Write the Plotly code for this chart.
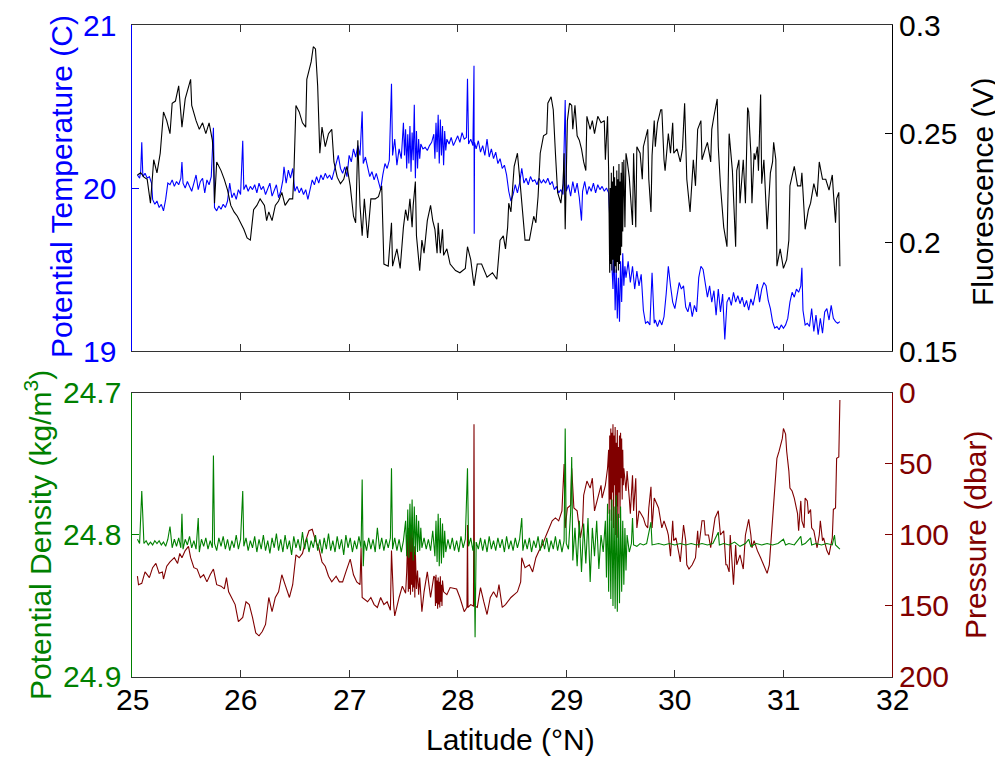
import plotly.graph_objects as go

# ---------------- data ----------------
temp_lat = [25.05,25.07,25.08,25.09,25.10,25.12,25.14,25.16,25.18,25.19,
            25.21,25.23,25.25,25.27,25.29,25.31,25.33,25.35,25.37,25.39,
            25.41,25.43,25.45,25.46,25.47,25.49,25.51,25.53,25.55,25.57,
            25.59,25.61,25.63,25.65,25.67,25.69,25.71,25.73,25.75,25.76,
            25.78,25.80,25.82,25.84,25.86,25.88,25.90,25.92,25.94,25.96,
            25.98,26.00,26.02,26.03,26.05,26.07,26.09,26.11,26.13,26.15,
            26.17,26.19,26.21,26.23,26.25,26.27,26.29,26.31,26.33,26.35,
            26.37,26.39,26.40,26.42,26.44,26.46,26.48,26.50,26.52,26.54,
            26.56,26.58,26.60,26.62,26.64,26.66,26.68,26.70,26.72,26.74,
            26.76,26.78,26.80,26.82,26.84,26.86,26.88,26.90,26.92,26.94,
            26.96,26.98,27.00,27.02,27.04,27.06,27.08,27.10,27.12,27.13,
            27.15,27.17,27.19,27.21,27.23,27.25,27.27,27.29,27.31,27.33,
            27.35,27.37,27.39,27.40,27.42,27.44,27.46,27.48,27.50,27.51,
            27.52,27.53,27.54,27.55,27.56,27.57,27.58,27.59,27.60,27.61,
            27.62,27.63,27.64,27.65,27.66,27.68,27.70,27.72,27.74,27.76,
            27.78,27.79,27.80,27.81,27.82,27.83,27.84,27.85,27.86,27.87,
            27.88,27.89,27.90,27.92,27.94,27.96,27.98,28.00,28.02,28.04,
            28.06,28.08,28.09,28.10,28.12,28.14,28.15,28.152,28.155,28.17,
            28.19,28.21,28.23,28.25,28.27,28.29,28.31,28.33,28.35,28.37,
            28.39,28.41,28.43,28.45,28.47,28.49,28.51,28.53,28.55,28.57,
            28.59,28.61,28.63,28.65,28.67,28.69,28.71,28.73,28.75,28.77,
            28.79,28.81,28.83,28.85,28.87,28.89,28.91,28.93,28.95,28.97,
            28.99,29.00,29.02,29.04,29.06,29.08,29.10,29.12,29.14,29.15,
            29.17,29.19,29.21,29.23,29.25,29.27,29.29,29.31,29.33,29.35,
            29.37,29.39,29.41,29.42,29.43,29.44,29.45,29.46,29.47,29.48,
            29.49,29.50,29.51,29.52,29.53,29.54,29.55,29.57,29.59,29.61,
            29.63,29.65,29.67,29.69,29.71,29.73,29.75,29.77,29.79,29.81,
            29.82,29.84,29.86,29.88,29.90,29.92,29.94,29.96,29.98,30.00,
            30.02,30.04,30.06,30.08,30.10,30.12,30.14,30.16,30.18,30.20,
            30.22,30.24,30.26,30.28,30.30,30.32,30.34,30.36,30.38,30.40,
            30.42,30.44,30.46,30.48,30.50,30.52,30.54,30.56,30.58,30.60,
            30.62,30.64,30.66,30.68,30.70,30.72,30.74,30.76,30.78,30.80,
            30.82,30.84,30.86,30.88,30.90,30.92,30.94,30.96,30.98,31.00,
            31.02,31.04,31.06,31.08,31.10,31.12,31.14,31.16,31.17,31.18,
            31.20,31.22,31.24,31.26,31.28,31.30,31.32,31.34,31.36,31.38,
            31.40,31.42,31.44,31.46,31.48,31.50,31.52]
temp_val = [20.08,20.06,20.10,20.28,20.07,20.09,20.06,20.07,20.03,19.93,
            19.90,19.92,19.88,19.90,19.86,19.93,20.03,20.02,20.05,20.01,
            20.04,20.02,20.06,20.16,20.03,20.00,20.04,20.01,19.98,20.03,
            20.08,19.99,20.04,20.06,19.97,20.05,20.02,20.07,20.37,19.88,
            19.86,19.89,19.87,19.90,19.88,19.92,20.03,19.94,19.97,19.93,
            19.99,19.96,20.29,19.99,20.02,19.98,20.01,19.99,20.02,19.97,
            20.03,19.99,20.01,19.96,20.00,20.03,19.95,19.99,20.02,19.94,
            19.98,20.05,20.13,20.03,20.11,20.06,20.12,19.98,20.01,19.97,
            20.00,19.96,19.99,19.93,20.00,20.05,20.02,20.07,20.03,20.08,
            20.05,20.09,20.06,20.08,20.05,20.10,20.16,20.20,20.12,20.09,
            20.13,20.07,20.20,20.16,20.24,20.19,20.26,20.20,20.47,20.15,
            20.19,20.12,20.07,20.10,20.05,20.09,20.03,19.99,20.08,20.15,
            20.12,20.17,20.64,20.20,20.30,20.14,20.24,20.18,20.40,20.20,
            20.36,20.12,20.33,20.15,20.38,20.10,20.34,20.17,20.51,20.06,
            20.35,20.12,20.30,20.18,20.27,20.24,20.25,20.23,20.26,20.28,
            20.33,20.18,20.40,20.22,20.45,20.15,20.42,20.20,20.38,20.14,
            20.35,20.23,20.30,20.27,20.31,20.26,20.29,20.32,20.28,20.34,
            20.30,20.31,20.67,20.27,20.30,20.26,20.75,19.72,20.28,20.24,
            20.29,20.22,20.26,20.20,20.30,20.19,20.24,20.18,20.22,20.15,
            20.18,20.12,20.14,20.08,19.98,19.92,19.96,20.02,19.97,20.03,
            20.12,20.03,20.06,20.02,20.07,20.04,20.05,20.02,20.06,20.03,
            20.05,20.03,20.06,20.02,20.04,19.99,20.01,19.97,19.99,19.96,
            20.54,19.98,20.02,19.95,20.04,19.97,20.03,19.94,19.80,19.98,
            20.04,19.96,20.01,19.98,20.03,19.97,20.02,19.99,20.01,19.98,
            20.00,19.97,19.70,19.55,19.38,19.62,19.25,19.50,19.20,19.45,
            19.18,19.55,19.30,19.60,19.40,19.52,19.45,19.55,19.42,19.52,
            19.38,19.49,19.40,19.47,19.25,19.17,19.18,19.16,19.48,19.17,
            19.19,19.15,19.19,19.16,19.21,19.35,19.52,19.40,19.30,19.26,
            19.35,19.42,19.38,19.40,19.27,19.24,19.30,19.21,19.28,19.24,
            19.45,19.52,19.50,19.41,19.33,19.40,19.30,19.37,19.22,19.38,
            19.24,19.35,19.07,19.30,19.33,19.28,19.36,19.30,19.34,19.29,
            19.33,19.27,19.31,19.25,19.32,19.28,19.35,19.41,19.30,19.38,
            19.42,19.40,19.31,19.26,19.18,19.14,19.15,19.13,19.16,19.14,
            19.16,19.20,19.30,19.36,19.33,19.38,19.36,19.40,19.51,19.25,
            19.16,19.17,19.15,19.26,19.12,19.22,19.10,19.20,19.11,19.24,
            19.26,19.19,19.28,19.20,19.18,19.17,19.18]

fluor_lat = [25.05,25.08,25.11,25.14,25.17,25.20,25.23,25.26,25.29,25.32,
             25.35,25.37,25.40,25.43,25.46,25.49,25.54,25.55,25.59,25.62,
             25.65,25.68,25.71,25.74,25.75,25.76,25.78,25.82,25.85,25.88,
             25.91,25.94,25.97,26.00,26.03,26.06,26.09,26.12,26.15,26.18,
             26.22,26.24,26.26,26.29,26.32,26.35,26.38,26.41,26.45,26.48,
             26.49,26.51,26.54,26.57,26.60,26.61,26.65,26.67,26.69,26.71,
             26.73,26.75,26.78,26.81,26.84,26.86,26.89,26.92,26.95,26.98,
             27.01,27.04,27.06,27.08,27.10,27.12,27.14,27.17,27.20,27.24,
             27.27,27.30,27.32,27.36,27.39,27.40,27.44,27.47,27.50,27.52,
             27.54,27.56,27.58,27.59,27.61,27.62,27.65,27.67,27.69,27.72,
             27.75,27.77,27.79,27.81,27.82,27.84,27.86,27.87,27.90,27.93,
             27.98,28.02,28.07,28.09,28.12,28.15,28.18,28.22,28.27,28.32,
             28.36,28.39,28.42,28.44,28.46,28.47,28.49,28.52,28.55,28.57,
             28.59,28.62,28.66,28.68,28.70,28.72,28.74,28.76,28.79,28.82,
             28.83,28.86,28.88,28.90,28.92,28.95,28.97,28.98,28.99,29.01,
             29.03,29.05,29.06,29.08,29.10,29.12,29.14,29.16,29.18,29.19,
             29.22,29.24,29.26,29.29,29.32,29.35,29.36,29.38,29.39,29.40,
             29.405,29.41,29.415,29.42,29.425,29.43,29.435,29.44,29.445,29.45,
             29.455,29.46,29.465,29.47,29.475,29.48,29.485,29.49,29.495,29.50,
             29.505,29.51,29.515,29.52,29.53,29.54,29.55,29.56,29.58,29.61,
             29.62,29.64,29.65,29.68,29.70,29.71,29.75,29.76,29.78,29.79,
             29.81,29.82,29.84,29.87,29.88,29.90,29.91,29.94,29.96,29.98,
             29.99,30.02,30.05,30.07,30.09,30.11,30.13,30.14,30.16,30.17,
             30.19,30.21,30.24,30.25,30.28,30.30,30.33,30.34,30.36,30.39,
             30.40,30.42,30.45,30.48,30.50,30.53,30.56,30.57,30.59,30.60,
             30.63,30.65,30.67,30.68,30.70,30.71,30.73,30.74,30.76,30.77,
             30.79,30.80,30.82,30.85,30.88,30.90,30.91,30.93,30.94,30.97,
             31.00,31.03,31.05,31.06,31.10,31.11,31.13,31.16,31.17,31.20,
             31.23,31.25,31.28,31.31,31.33,31.36,31.39,31.42,31.45,31.46,
             31.48,31.49,31.51,31.52]
fluor_val = [0.231,0.232,0.230,0.229,0.218,0.238,0.232,0.241,0.260,0.256,
             0.250,0.264,0.265,0.272,0.253,0.266,0.275,0.263,0.256,0.252,
             0.255,0.250,0.255,0.247,0.241,0.218,0.237,0.233,0.229,0.224,
             0.217,0.214,0.212,0.209,0.206,0.202,0.201,0.215,0.217,0.220,
             0.217,0.210,0.214,0.210,0.217,0.219,0.223,0.217,0.220,0.220,
             0.230,0.263,0.260,0.255,0.253,0.275,0.283,0.290,0.289,0.272,
             0.241,0.253,0.244,0.250,0.252,0.237,0.230,0.227,0.229,0.235,
             0.226,0.212,0.209,0.247,0.217,0.203,0.220,0.202,0.220,0.220,
             0.221,0.226,0.190,0.189,0.209,0.189,0.197,0.188,0.207,0.215,
             0.210,0.220,0.207,0.217,0.228,0.203,0.187,0.201,0.195,0.210,
             0.217,0.210,0.206,0.195,0.209,0.195,0.206,0.194,0.197,0.190,
             0.187,0.186,0.188,0.198,0.192,0.180,0.190,0.190,0.184,0.186,
             0.183,0.201,0.203,0.197,0.207,0.218,0.214,0.235,0.241,0.230,
             0.217,0.201,0.201,0.207,0.212,0.209,0.221,0.241,0.249,0.250,
             0.264,0.267,0.261,0.241,0.223,0.218,0.227,0.241,0.206,0.256,
             0.264,0.263,0.252,0.263,0.249,0.247,0.243,0.237,0.233,0.258,
             0.252,0.256,0.250,0.258,0.255,0.256,0.238,0.258,0.233,0.186,
             0.225,0.190,0.232,0.187,0.228,0.192,0.235,0.186,0.230,0.189,
             0.226,0.186,0.233,0.191,0.229,0.187,0.236,0.190,0.228,0.194,
             0.232,0.198,0.237,0.205,0.238,0.207,0.241,0.238,0.230,0.208,
             0.241,0.207,0.244,0.241,0.229,0.244,0.252,0.229,0.214,0.240,
             0.256,0.244,0.255,0.261,0.261,0.238,0.233,0.250,0.241,0.255,
             0.241,0.243,0.237,0.243,0.264,0.229,0.219,0.214,0.230,0.238,
             0.226,0.252,0.256,0.238,0.243,0.246,0.237,0.252,0.258,0.266,
             0.244,0.226,0.207,0.198,0.250,0.233,0.198,0.233,0.238,0.218,
             0.238,0.218,0.262,0.260,0.241,0.218,0.241,0.238,0.244,0.233,
             0.268,0.227,0.238,0.206,0.232,0.237,0.246,0.238,0.189,0.197,
             0.188,0.192,0.201,0.226,0.235,0.232,0.226,0.226,0.232,0.206,
             0.215,0.218,0.227,0.221,0.237,0.229,0.229,0.224,0.231,0.223,
             0.209,0.220,0.223,0.189]

dens_lat = [25.05,25.07,25.09,25.11,25.13,25.15,25.17,25.19,25.21,25.23,
            25.25,25.27,25.29,25.31,25.33,25.35,25.37,25.39,25.41,25.43,
            25.45,25.46,25.47,25.49,25.51,25.53,25.55,25.57,25.59,25.61,
            25.62,25.64,25.66,25.68,25.70,25.72,25.74,25.75,25.76,25.78,
            25.80,25.82,25.84,25.86,25.88,25.90,25.92,25.94,25.96,25.98,
            26.00,26.02,26.03,26.05,26.07,26.09,26.11,26.13,26.15,26.17,
            26.19,26.21,26.23,26.25,26.27,26.29,26.31,26.33,26.35,26.37,
            26.39,26.41,26.43,26.45,26.47,26.49,26.51,26.53,26.55,26.57,
            26.59,26.61,26.63,26.65,26.67,26.69,26.71,26.73,26.75,26.77,
            26.79,26.81,26.83,26.85,26.87,26.89,26.91,26.93,26.95,26.97,
            26.99,27.01,27.03,27.05,27.07,27.09,27.11,27.12,27.13,27.14,
            27.16,27.18,27.20,27.22,27.24,27.26,27.28,27.30,27.32,27.34,
            27.36,27.38,27.39,27.40,27.42,27.44,27.46,27.48,27.50,27.52,
            27.53,27.54,27.55,27.56,27.57,27.58,27.59,27.60,27.61,27.62,
            27.63,27.64,27.65,27.66,27.67,27.69,27.71,27.73,27.75,27.77,
            27.79,27.80,27.81,27.82,27.83,27.84,27.85,27.86,27.87,27.88,
            27.89,27.91,27.93,27.95,27.97,27.99,28.01,28.03,28.05,28.07,
            28.09,28.10,28.12,28.14,28.15,28.16,28.17,28.19,28.21,28.23,
            28.25,28.27,28.29,28.31,28.33,28.35,28.37,28.39,28.41,28.43,
            28.45,28.47,28.49,28.51,28.53,28.55,28.57,28.59,28.60,28.62,
            28.64,28.66,28.68,28.70,28.72,28.74,28.76,28.78,28.80,28.82,
            28.84,28.86,28.88,28.90,28.92,28.94,28.96,28.98,28.99,29.00,
            29.02,29.04,29.05,29.06,29.08,29.10,29.12,29.14,29.16,29.18,
            29.20,29.22,29.24,29.26,29.28,29.30,29.32,29.34,29.36,29.37,
            29.38,29.39,29.40,29.41,29.42,29.43,29.44,29.45,29.46,29.47,
            29.48,29.49,29.50,29.51,29.52,29.53,29.54,29.55,29.56,29.58,
            29.60,29.61,29.62,29.65,29.68,29.71,29.74,29.78,29.79,29.85,
            29.90,29.95,30.00,30.05,30.10,30.15,30.20,30.25,30.30,30.35,
            30.40,30.41,30.45,30.50,30.55,30.60,30.65,30.68,30.70,30.75,
            30.80,30.85,30.90,30.95,31.00,31.02,31.05,31.10,31.16,31.17,
            31.20,31.25,31.26,31.30,31.35,31.40,31.45,31.47,31.48,31.52]
dens_val = [24.803,24.806,24.769,24.806,24.804,24.807,24.805,24.807,24.804,24.806,
            24.804,24.807,24.805,24.808,24.803,24.794,24.809,24.803,24.808,24.802,
            24.809,24.785,24.810,24.803,24.807,24.801,24.809,24.804,24.810,24.788,
            24.812,24.803,24.808,24.802,24.810,24.804,24.809,24.744,24.806,24.811,
            24.802,24.808,24.801,24.810,24.803,24.811,24.804,24.809,24.800,24.810,
            24.803,24.769,24.808,24.802,24.811,24.804,24.809,24.801,24.812,24.803,
            24.810,24.800,24.811,24.804,24.813,24.802,24.809,24.799,24.811,24.803,
            24.812,24.800,24.810,24.804,24.814,24.801,24.809,24.803,24.811,24.798,
            24.810,24.802,24.812,24.804,24.809,24.800,24.811,24.803,24.813,24.802,
            24.810,24.799,24.811,24.804,24.812,24.801,24.810,24.803,24.814,24.800,
            24.809,24.802,24.812,24.804,24.810,24.801,24.809,24.761,24.822,24.804,
            24.811,24.802,24.810,24.803,24.812,24.795,24.810,24.802,24.811,24.803,
            24.809,24.802,24.753,24.810,24.802,24.811,24.803,24.812,24.804,24.790,
            24.815,24.782,24.816,24.778,24.812,24.775,24.818,24.780,24.814,24.786,
            24.812,24.790,24.811,24.795,24.809,24.802,24.810,24.803,24.811,24.797,
            24.815,24.790,24.819,24.785,24.822,24.788,24.820,24.792,24.816,24.797,
            24.812,24.803,24.810,24.802,24.811,24.804,24.812,24.801,24.809,24.803,
            24.753,24.808,24.802,24.811,24.804,24.872,24.805,24.810,24.802,24.811,
            24.803,24.812,24.801,24.810,24.804,24.811,24.802,24.809,24.803,24.812,
            24.801,24.810,24.804,24.811,24.802,24.809,24.803,24.788,24.811,24.803,
            24.810,24.802,24.812,24.804,24.809,24.801,24.811,24.803,24.810,24.802,
            24.812,24.804,24.810,24.801,24.811,24.803,24.812,24.804,24.725,24.806,
            24.810,24.784,24.745,24.818,24.795,24.822,24.790,24.826,24.792,24.820,
            24.788,24.833,24.795,24.815,24.790,24.824,24.800,24.812,24.790,24.830,
            24.778,24.840,24.782,24.845,24.775,24.850,24.780,24.852,24.772,24.854,
            24.785,24.848,24.780,24.840,24.790,24.835,24.795,24.825,24.800,24.812,
            24.806,24.788,24.807,24.808,24.806,24.807,24.806,24.791,24.807,24.806,
            24.807,24.806,24.807,24.806,24.807,24.806,24.807,24.806,24.807,24.806,
            24.798,24.807,24.806,24.807,24.805,24.808,24.806,24.803,24.808,24.806,
            24.807,24.806,24.807,24.806,24.803,24.807,24.806,24.807,24.801,24.807,
            24.806,24.802,24.807,24.806,24.807,24.806,24.807,24.800,24.807,24.810]

pres_lat = [25.05,25.06,25.09,25.12,25.16,25.19,25.22,25.25,25.28,25.29,
            25.32,25.35,25.39,25.42,25.44,25.46,25.49,25.52,25.54,25.57,
            25.60,25.63,25.66,25.69,25.72,25.75,25.78,25.82,25.85,25.87,
            25.89,25.92,25.95,25.98,26.02,26.05,26.08,26.11,26.14,26.17,
            26.20,26.23,26.26,26.29,26.32,26.35,26.38,26.41,26.45,26.48,
            26.51,26.54,26.57,26.60,26.63,26.66,26.69,26.72,26.75,26.78,
            26.81,26.84,26.88,26.91,26.94,26.97,27.01,27.04,27.07,27.10,
            27.11,27.12,27.17,27.20,27.23,27.26,27.29,27.32,27.35,27.38,
            27.39,27.41,27.42,27.46,27.49,27.52,27.53,27.54,27.545,27.55,
            27.555,27.56,27.565,27.57,27.575,27.58,27.585,27.59,27.595,27.60,
            27.605,27.61,27.62,27.63,27.64,27.65,27.66,27.67,27.69,27.72,
            27.75,27.78,27.79,27.795,27.80,27.805,27.81,27.815,27.82,27.825,
            27.83,27.835,27.84,27.845,27.85,27.855,27.86,27.87,27.90,27.93,
            27.99,28.02,28.06,28.085,28.09,28.095,28.12,28.145,28.15,28.155,
            28.18,28.21,28.24,28.27,28.30,28.33,28.36,28.38,28.41,28.44,
            28.49,28.52,28.55,28.58,28.59,28.62,28.66,28.69,28.72,28.75,
            28.78,28.81,28.84,28.87,28.90,28.93,28.96,28.98,28.99,29.01,
            29.04,29.05,29.07,29.10,29.13,29.15,29.16,29.19,29.22,29.24,
            29.26,29.29,29.32,29.33,29.35,29.36,29.38,29.39,29.395,29.40,
            29.405,29.41,29.415,29.42,29.425,29.43,29.435,29.44,29.445,29.45,
            29.455,29.46,29.465,29.47,29.475,29.48,29.485,29.49,29.495,29.50,
            29.505,29.51,29.515,29.52,29.525,29.53,29.55,29.56,29.58,29.59,
            29.61,29.62,29.64,29.65,29.67,29.68,29.71,29.73,29.75,29.76,
            29.78,29.79,29.81,29.82,29.85,29.88,29.90,29.93,29.94,29.96,
            29.98,29.99,30.01,30.04,30.05,30.08,30.10,30.11,30.13,30.16,
            30.19,30.21,30.22,30.25,30.27,30.28,30.31,30.33,30.36,30.37,
            30.40,30.42,30.45,30.47,30.48,30.50,30.51,30.53,30.54,30.56,
            30.57,30.60,30.63,30.65,30.68,30.70,30.71,30.73,30.76,30.79,
            30.82,30.85,30.87,30.90,30.91,30.94,30.96,30.99,31.00,31.02,
            31.03,31.05,31.06,31.08,31.10,31.13,31.14,31.16,31.17,31.19,
            31.20,31.22,31.23,31.25,31.26,31.28,31.31,31.33,31.34,31.36,
            31.37,31.40,31.42,31.45,31.46,31.48,31.49,31.51,31.52]
pres_val = [129,135,134,126,130,123,120,127,126,131,
            122,119,116,120,113,116,111,108,116,123,
            124,130,128,133,128,124,135,136,138,130,
            140,144,149,161,158,147,149,158,169,171,
            168,163,144,154,144,140,128,135,144,135,
            114,116,113,104,97,96,104,109,119,122,
            129,133,129,133,133,126,117,128,133,135,
            109,144,147,144,149,151,144,149,147,153,
            111,149,157,144,136,141,126,100,140,95,
            138,92,142,98,135,94,140,102,137,108,
            144,112,138,125,142,130,140,154,140,126,
            144,129,130,150,128,148,132,152,130,149,
            133,151,129,147,135,150,132,140,142,137,
            138,144,154,151,93,151,149,150,22,150,
            151,137,147,156,144,140,144,135,151,149,
            144,142,140,133,116,123,121,126,116,111,
            107,101,95,90,88,90,83,50,95,81,
            79,53,81,83,102,93,72,62,67,60,
            83,74,65,74,69,65,53,40,85,30,
            75,25,90,28,70,22,95,30,65,24,
            100,35,80,26,102,38,70,30,88,28,
            60,32,75,40,65,53,69,55,74,85,
            58,83,60,95,83,84,88,93,95,81,
            66,95,74,76,81,95,90,97,100,115,
            90,104,102,114,119,93,104,121,124,121,
            116,97,109,90,90,100,100,109,95,88,
            83,100,97,121,121,126,100,119,135,107,
            121,114,124,100,89,100,109,104,111,116,
            121,127,121,88,76,46,41,32,25,29,
            41,55,67,69,74,85,97,76,90,95,
            74,76,85,82,95,97,109,100,90,104,
            102,111,114,102,82,81,46,45,5]

lat_ticks = [25, 26, 27, 28, 29, 30, 31, 32]
lat_ticktext = ["25", "26", "27", "28", "29", "30", "31", "32"]
temp_ticks = [19, 20, 21]
temp_ticktext = ["19", "20", "21"]
fluor_ticks = [0.15, 0.2, 0.25, 0.3]
fluor_ticktext = ["0.15", "0.2", "0.25", "0.3"]
dens_ticks = [24.7, 24.8, 24.9]
dens_ticktext = ["24.7", "24.8", "24.9"]
pres_ticks = [0, 50, 100, 150, 200]
pres_ticktext = ["0", "50", "100", "150", "200"]

BLUE = "#0000FF"
BLACK = "#000000"
GREEN = "#008000"
DRED = "#800000"
FRAME = "#333333"
FONT = "Arial, Liberation Sans, Helvetica, sans-serif"
FS = 30

# the page body has an 8px margin; size the figure so the plot box lands
# where the reference has it
FIG_W, FIG_H = 995, 749
ML, MR, MT, MB = 124, 111, 17, 80

fig = go.Figure()
fig.add_trace(go.Scatter(x=temp_lat, y=temp_val, mode="lines", xaxis="x", yaxis="y",
                         line=dict(color=BLUE, width=1.1)))
fig.add_trace(go.Scatter(x=fluor_lat, y=fluor_val, mode="lines", xaxis="x", yaxis="y2",
                         line=dict(color=BLACK, width=1.1)))
fig.add_trace(go.Scatter(x=pres_lat, y=pres_val, mode="lines", xaxis="x2", yaxis="y3",
                         line=dict(color=DRED, width=1.1)))
fig.add_trace(go.Scatter(x=dens_lat, y=dens_val, mode="lines", xaxis="x2", yaxis="y4",
                         line=dict(color=GREEN, width=1.1)))

top_dom = [0.5, 1.0]
bot_dom = [0.0, 0.4356]

xcommon = dict(range=[25, 32], tickvals=lat_ticks, ticks="inside", ticklen=7,
               tickcolor=FRAME, showline=True, linecolor=FRAME, linewidth=1,
               mirror="ticks", showgrid=False, zeroline=False, showticklabels=False)
ycommon = dict(ticks="inside", ticklen=7, showline=True, linewidth=1,
               showticklabels=False, showgrid=False, zeroline=False)

fig.update_layout(
    width=FIG_W, height=FIG_H,
    margin=dict(l=ML, r=MR, t=MT, b=MB, autoexpand=False),
    paper_bgcolor="white", plot_bgcolor="white", showlegend=False,
    font=dict(family=FONT, size=FS, color="black"),
    xaxis=dict(domain=[0, 1], anchor="y", **xcommon),
    xaxis2=dict(domain=[0, 1], anchor="y3", **xcommon),
    yaxis=dict(domain=top_dom, anchor="x", side="left", range=[19, 21],
               tickvals=temp_ticks, tickcolor=BLUE, linecolor=BLUE, **ycommon),
    yaxis2=dict(overlaying="y", anchor="x", side="right", range=[0.15, 0.3],
                tickvals=fluor_ticks, tickcolor=BLACK, linecolor=BLACK, **ycommon),
    yaxis3=dict(domain=bot_dom, anchor="x2", side="right", range=[200, 0],
                tickvals=pres_ticks, tickcolor=DRED, linecolor=DRED, **ycommon),
    yaxis4=dict(overlaying="y3", anchor="x2", side="left", range=[24.9, 24.7],
                tickvals=dens_ticks, tickcolor=GREEN, linecolor=GREEN, **ycommon),
)

W = FIG_W - ML - MR
H = FIG_H - MT - MB


def px(xp):
    return (xp - 8 - ML) / W


def py(yp):
    return (FIG_H - MB - (yp - 8)) / H


# tick labels, each placed on its own axis' scale
label_sets = [
    (temp_ticks, temp_ticktext, "y", BLUE, px(118), "right"),
    (fluor_ticks, fluor_ticktext, "y2", BLACK, px(897), "left"),
    (dens_ticks, dens_ticktext, "y4", GREEN, px(123), "right"),
    (pres_ticks, pres_ticktext, "y3", DRED, px(897), "left"),
]
for vals, texts, yref, col, xpos, anchor in label_sets:
    for v, t in zip(vals, texts):
        fig.add_annotation(xref="paper", yref=yref, x=xpos, y=v, text=t,
                           showarrow=False, xanchor=anchor, yanchor="middle",
                           font=dict(color=col, size=FS))
for v, t in zip(lat_ticks, lat_ticktext):
    fig.add_annotation(xref="x2", yref="paper", x=v, y=py(699), text=t,
                       showarrow=False, xanchor="center", yanchor="middle",
                       font=dict(color="black", size=FS))

annos = [
    dict(text="Potential Temperature (C)", x=px(61), y=py(187), textangle=-90,
         font=dict(color=BLUE, size=FS)),
    dict(text="Fluorescence (V)", x=px(983), y=py(192), textangle=-90,
         font=dict(color=BLACK, size=FS)),
    dict(text="Potential Density (kg/m<sup>3</sup>)", x=px(38), y=py(535), textangle=-90,
         font=dict(color=GREEN, size=FS)),
    dict(text="Pressure (dbar)", x=px(975), y=py(535), textangle=-90,
         font=dict(color=DRED, size=FS)),
    dict(text="Latitude (\u00b0N)", x=px(510), y=py(739), textangle=0,
         font=dict(color="black", size=FS)),
]
for a in annos:
    fig.add_annotation(xref="paper", yref="paper", showarrow=False,
                       xanchor="center", yanchor="middle", **a)

fig.write_html("out.html")
